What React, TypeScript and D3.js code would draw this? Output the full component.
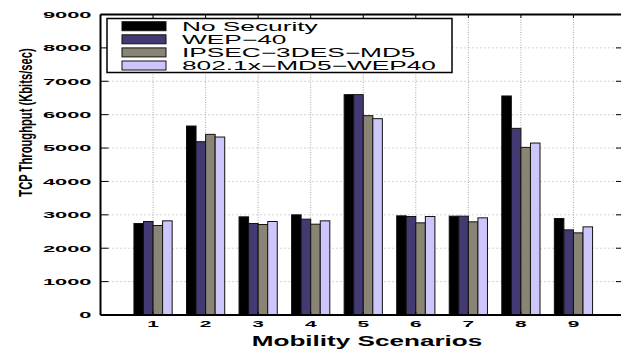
import React from "react";
import * as d3 from "d3";

// Mobility scenarios on the x axis
const scenarios = [1, 2, 3, 4, 5, 6, 7, 8, 9];

// Series names and TCP throughput (Kbits/sec) per scenario
const seriesNames = ["No Security", "WEP\u221240", "IPSEC\u22123DES\u2212MD5", "802.1x\u2212MD5\u2212WEP40"];
const noSecurity = [2740, 5660, 2940, 3000, 6600, 2970, 2960, 6560, 2890];
const wep40 = [2800, 5190, 2740, 2870, 6600, 2950, 2960, 5590, 2550];
const ipsec3desMd5 = [2680, 5410, 2710, 2720, 5970, 2760, 2790, 5020, 2460];
const dot1xMd5Wep40 = [2820, 5330, 2800, 2820, 5880, 2950, 2910, 5150, 2640];
const seriesValues = [noSecurity, wep40, ipsec3desMd5, dot1xMd5Wep40];
const seriesColors = ["#000000", "#433a73", "#8a8475", "#cdc6fb"];

const yTicks = [0, 1000, 2000, 3000, 4000, 5000, 6000, 7000, 8000, 9000];

const W = 621;
const H = 349;
const FONT = "'Liberation Sans', Arial, Helvetica, sans-serif";

export default function App() {
  const x = d3.scaleLinear().domain([0, 10]).range([100.5, 626]);
  const y = d3.scaleLinear().domain([0, 9000]).range([315, 14.5]);
  const unit = x(1) - x(0);
  const groupWidth = unit * Math.min(0.8, seriesNames.length / (seriesNames.length + 1.5));
  const inner = d3
    .scaleBand<number>()
    .domain(d3.range(seriesNames.length))
    .range([-groupWidth / 2, groupWidth / 2])
    .paddingInner(0);

  const [x0, x1] = x.range();
  const [yb, yt] = y.range();

  // legend geometry
  const lg = { x: 107, y: 18.5, w: 345, h: 54, sw0: 122, sw1: 166, tx: 182, row0: 26.2, pitch: 13.1 };

  return (
    <svg
      width={W}
      height={H}
      style={{ position: "absolute", left: 0, top: 0, background: "#fff" }}
      fontFamily={FONT}
    >
      <rect x={0} y={0} width={W} height={H} fill="#fff" />

      {/* grid */}
      <g stroke="#a8a8a8" strokeWidth={1} strokeDasharray="1,3">
        {yTicks
          .filter((t) => t > 0 && t < 9000)
          .map((t) => (
            <line key={"gy" + t} x1={x0} x2={x1} y1={y(t)} y2={y(t)} />
          ))}
        {scenarios.map((s) => (
          <line key={"gx" + s} x1={x(s)} x2={x(s)} y1={yt} y2={yb} strokeDasharray="1,1.5" />
        ))}
      </g>

      {/* bars */}
      <g>
        {scenarios.map((s, i) =>
          seriesValues.map((vals, k) => (
            <rect
              key={`b${i}-${k}`}
              x={x(s) + (inner(k) as number)}
              y={y(vals[i])}
              width={inner.bandwidth()}
              height={y(0) - y(vals[i])}
              fill={seriesColors[k]}
              stroke="#111"
              strokeWidth={1}
            />
          ))
        )}
      </g>

      {/* axes box */}
      <g stroke="#000" strokeWidth={2} fill="none">
        <line x1={x0} x2={x1} y1={yb} y2={yb} />
        <line x1={x0} x2={x1} y1={yt} y2={yt} />
        <line x1={x0} x2={x0} y1={yt} y2={yb} />
        <line x1={x1} x2={x1} y1={yt} y2={yb} />
      </g>
      <g stroke="#000" strokeWidth={1}>
        {yTicks.map((t) => (
          <g key={"ty" + t}>
            <line x1={x0} x2={x0 + 8} y1={y(t)} y2={y(t)} />
            <line x1={x1} x2={x1 - 10} y1={y(t)} y2={y(t)} />
          </g>
        ))}
        {scenarios.map((s) => (
          <g key={"tx" + s}>
            <line x1={x(s)} x2={x(s)} y1={yt} y2={yt + 3.5} />
            <line x1={x(s)} x2={x(s)} y1={yb} y2={yb - 3.5} />
          </g>
        ))}
      </g>

      {/* y tick labels */}
      {yTicks.map((t) => (
        <text
          key={"ly" + t}
          transform={`translate(${x0 - 9},${y(t) + 3.4}) scale(2.3,1)`}
          textAnchor="end"
          fontSize={9.5}
          fontWeight="bold"
          fill="#000"
        >
          {t}
        </text>
      ))}

      {/* x tick labels */}
      {scenarios.map((s) => (
        <text
          key={"lx" + s}
          transform={`translate(${x(s)},${327}) scale(2.2,1)`}
          textAnchor="middle"
          fontSize={9.5}
          fontWeight="bold"
          fill="#000"
        >
          {s}
        </text>
      ))}

      {/* axis titles */}
      <text
        transform={`translate(367,345.7) scale(1.8,1)`}
        textAnchor="middle"
        fontSize={14.5}
        fontWeight="bold"
        fill="#000"
      >
        Mobility Scenarios
      </text>
      <text
        transform={`translate(31.5,122.5) rotate(-90) scale(1,1.65)`}
        textAnchor="middle"
        fontSize={11.2}
        fontWeight="bold"
        fill="#000"
      >
        TCP Throughput (Kbits/sec)
      </text>

      {/* legend */}
      <g>
        <rect x={lg.x} y={lg.y} width={lg.w} height={lg.h} fill="#fff" stroke="#000" strokeWidth={1.5} />
        {seriesNames.map((name, k) => {
          const cy = lg.row0 + k * lg.pitch;
          return (
            <g key={"lg" + k}>
              <rect
                x={lg.sw0}
                y={cy - 4.5}
                width={lg.sw1 - lg.sw0}
                height={9}
                fill={seriesColors[k]}
                stroke="#111"
                strokeWidth={1}
              />
              <text
                transform={`translate(${lg.tx},${cy + 4.6}) scale(2.19,1)`}
                fontSize={12}
                fill="#000"
              >
                {name}
              </text>
            </g>
          );
        })}
      </g>
    </svg>
  );
}
